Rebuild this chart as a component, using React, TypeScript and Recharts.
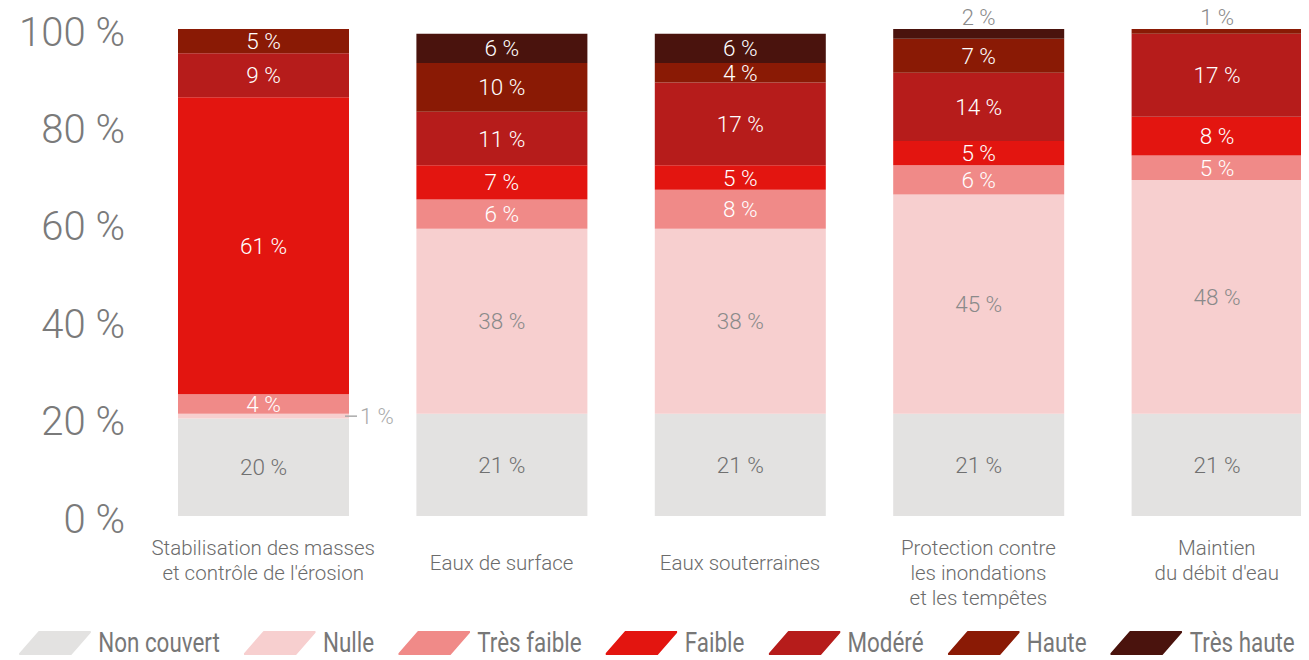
import { Bar, BarChart, LabelList, XAxis, YAxis } from "recharts";

const categories = [
  "Stabilisation des masses\net contrôle de l'érosion",
  "Eaux de surface",
  "Eaux souterraines",
  "Protection contre\nles inondations\net les tempêtes",
  "Maintien\ndu débit d'eau",
];

const nonCouvert = [20, 21, 21, 21, 21];
const nulle = [1, 38, 38, 45, 48];
const tresFaible = [4, 6, 8, 6, 5];
const faible = [61, 7, 5, 5, 8];
const modere = [9, 11, 17, 14, 17];
const haute = [5, 10, 4, 7, 1];
const tresHaute = [0, 6, 6, 2, 0];

const yTicks = [0, 20, 40, 60, 80, 100];

const series = [
  { key: "nonCouvert", label: "Non couvert", color: "#e3e2e1", text: "#707070", values: nonCouvert },
  { key: "nulle", label: "Nulle", color: "#f7cfcf", text: "#8a8a8a", values: nulle },
  { key: "tresFaible", label: "Très faible", color: "#f08a88", text: "#ffffff", values: tresFaible },
  { key: "faible", label: "Faible", color: "#e31510", text: "#ffffff", values: faible },
  { key: "modere", label: "Modéré", color: "#b61c1b", text: "#ffffff", values: modere },
  { key: "haute", label: "Haute", color: "#8a1a05", text: "#ffffff", values: haute },
  { key: "tresHaute", label: "Très haute", color: "#4a130d", text: "#ffffff", values: tresHaute },
];

const data = categories.map((name, i) => {
  const row: Record<string, string | number> = { name };
  series.forEach((s) => (row[s.key] = s.values[i]));
  return row;
});

const FONT = "Roboto, 'Helvetica Neue', 'Liberation Sans', sans-serif";

// is every series above this one empty for this category?
function isTop(seriesIndex: number, index: number) {
  return series.slice(seriesIndex + 1).every((s) => !s.values[index]);
}

function makeLabel(seriesIndex: number) {
  const s = series[seriesIndex];
  return (props: any) => {
    const vb = props.viewBox || {};
    const x = props.x ?? vb.x;
    const y = props.y ?? vb.y;
    const width = props.width ?? vb.width;
    const height = props.height ?? vb.height;
    const { value, index } = props;
    if (!value) return null;
    if (value < 3) {
      if (isTop(seriesIndex, index)) {
        return (
          <text x={x + width / 2} y={y - 12} textAnchor="middle" dominantBaseline="central"
            fontFamily={FONT} fontWeight={300} fontSize={22} fill="#8a8a8a">
            {`${value} %`}
          </text>
        );
      }
      const cy = y + height / 2;
      return (
        <g>
          <line x1={x + width - 4} x2={x + width + 8} y1={cy} y2={cy} stroke="#aaaaaa" strokeWidth={1.5} />
          <text x={x + width + 11} y={cy} textAnchor="start" dominantBaseline="central"
            fontFamily={FONT} fontWeight={300} fontSize={22} fill="#aaaaaa">
            {`${value} %`}
          </text>
        </g>
      );
    }
    return (
      <text x={x + width / 2} y={y + height / 2} textAnchor="middle" dominantBaseline="central"
        fontFamily={FONT} fontWeight={300} fontSize={22.5} fill={s.text}>
        {`${value} %`}
      </text>
    );
  };
}

function YTick({ x, y, payload }: any) {
  return (
    <text x={x} y={y + 3} textAnchor="end" dominantBaseline="central"
      fontFamily={FONT} fontWeight={300} fontSize={40} fill="#7a7a7a">
      {`${payload.value} %`}
    </text>
  );
}

function XTick({ x, y, payload }: any) {
  const lines = String(payload.value).split("\n");
  const start = lines.length === 1 ? y + 47 : y + 32;
  return (
    <text textAnchor="middle" fontFamily={FONT} fontWeight={300} fontSize={20.5} fill="#6b6b6b">
      {lines.map((line, i) => (
        <tspan key={i} x={x} y={start + i * 25} dominantBaseline="central">{line}</tspan>
      ))}
    </text>
  );
}

// legend drawn wide then squeezed horizontally to get the condensed look
function LegendRow() {
  return (
    <div style={{
      position: "absolute", left: 19, top: 626, display: "flex", alignItems: "center",
      fontFamily: "Roboto, sans-serif", fontSize: 28, color: "#777777", whiteSpace: "nowrap",
      transform: "scaleX(0.8)", transformOrigin: "left center",
    }}>
      {series.map((s) => (
        <div key={s.key} style={{ display: "flex", alignItems: "center", marginRight: 30 }}>
          <svg width={90} height={24} style={{ marginRight: 9 }}>
            <polygon points="25,1 89,1 65,23 1,23" fill={s.color} stroke={s.color}
              strokeWidth={2} strokeLinejoin="round" />
          </svg>
          <span>{s.label}</span>
        </div>
      ))}
    </div>
  );
}

export default function App() {
  return (
    <div style={{ position: "relative", margin: "-8px 0 0 -8px", width: 1309, height: 660, overflow: "hidden" }}>
      <BarChart width={1340} height={660} data={data} barSize={171}
        margin={{ top: 29, right: 4, left: 0, bottom: 0 }}>
        <XAxis dataKey="name" height={144} axisLine={false} tickLine={false} tickSize={0}
          tickMargin={0} interval={0} tick={<XTick />} />
        <YAxis width={144} domain={[0, 100]} ticks={yTicks} axisLine={false} tickLine={false}
          tickSize={0} tickMargin={19} tick={<YTick />} />
        {series.map((s, si) => (
          <Bar key={s.key} dataKey={s.key} stackId="a" fill={s.color} isAnimationActive={false}>
            <LabelList dataKey={s.key} content={makeLabel(si)} />
          </Bar>
        ))}
      </BarChart>
      <LegendRow />
    </div>
  );
}
